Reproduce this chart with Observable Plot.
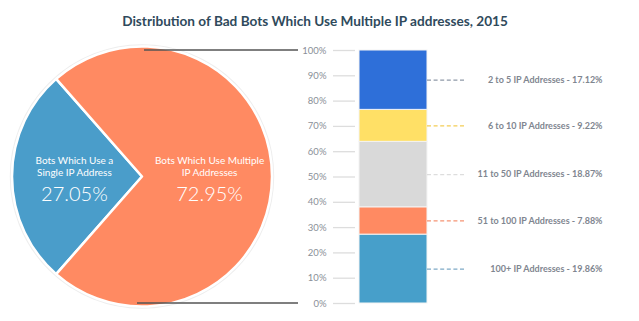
<!DOCTYPE html>
<html><head><meta charset="utf-8">
<script src="https://cdn.jsdelivr.net/npm/d3@7"></script>
<script src="https://cdn.jsdelivr.net/npm/@observablehq/plot@0.6"></script>
<style>
body{margin:0;background:#fff;font-family:Lato,"Open Sans",sans-serif;}
#title{height:20px;padding-top:14px;line-height:14px;font-size:13.6px;font-weight:bold;color:#2f4a5c;text-align:center;width:630px;}
#chart svg{display:block;}
</style></head><body>
<div id="title">Distribution of Bad Bots Which Use Multiple IP addresses, 2015</div>
<div id="chart"></div>
<script>
const pieCategories = ["Single IP Address", "Multiple IP Addresses"];
const pieValues = [27.05, 72.95];
const pieLabelLines = [["Bots Which Use a", "Single IP Address"], ["Bots Which Use Multiple", "IP Addresses"]];
const pieColors = ["#4a9dca", "#ff8a62"];

const barCategories = ["100+ IP Addresses", "51 to 100 IP Addresses", "11 to 50 IP Addresses", "6 to 10 IP Addresses", "2 to 5 IP Addresses"];
const barValues = [19.86, 7.88, 18.87, 9.22, 17.12];
const barColors = ["#479fca", "#ff8a62", "#d9d9d9", "#ffe066", "#2e6fd9"];
const dashColors = ["#7ea9c6", "#f59474", "#dddddd", "#f3cd55", "#8f99a8"];

const yTicks = [0, 0.1, 0.2, 0.3, 0.4, 0.5, 0.6, 0.7, 0.8, 0.9, 1];

const barData = barCategories.map((c, i) => ({category: c, value: barValues[i], color: barColors[i], dash: dashColors[i]}));
const pieData = pieCategories.map((c, i) => ({category: c, value: pieValues[i], color: pieColors[i], lines: pieLabelLines[i]}));

function pieMark(index, scales, values, dims) {
  const cx = 142, cy = scales.y(0.5), r = 130;
  const total = d3.sum(pieData, d => d.value);
  const a = pieData[0].value / total * 2 * Math.PI;
  const start = -Math.PI / 2 - a / 2;
  const arcs = d3.pie().sort(null).value(d => d.value).startAngle(start).endAngle(start + 2 * Math.PI)(pieData);
  const arc = d3.arc().innerRadius(0).outerRadius(r);
  const labelArc = d3.arc().innerRadius(r * 0.52).outerRadius(r * 0.52);
  const g = d3.create("svg:g");
  g.append("circle").attr("cx", cx).attr("cy", cy).attr("r", r + 1.5).attr("fill", "none").attr("stroke", "#eeeeee").attr("stroke-width", 1.5);
  const s = g.selectAll("g.s").data(arcs).join("g").attr("transform", `translate(${cx},${cy})`);
  s.append("path").attr("d", arc).attr("fill", d => d.data.color).attr("stroke", "#fff").attr("stroke-width", 2.5).attr("stroke-linejoin", "round");
  const t = s.append("g").attr("transform", d => { const [x, y] = labelArc.centroid(d); return `translate(${x},${y})`; })
    .attr("fill", "#fff").attr("text-anchor", "middle").attr("font-family", "Lato, 'Open Sans', sans-serif");
  t.append("text").attr("y", -16).attr("dy", "0.35em").attr("font-size", 10).text(d => d.data.lines[0]);
  t.append("text").attr("y", -4).attr("dy", "0.35em").attr("font-size", 10).text(d => d.data.lines[1]);
  t.append("text").attr("y", 17).attr("dy", "0.35em").attr("font-size", 20).attr("font-weight", 300).text(d => d.data.value.toFixed(2) + "%");
  g.selectAll("line.c").data([1, 0]).join("line")
    .attr("x1", d => d ? cx + 2 : cx - 5).attr("x2", 298)
    .attr("y1", d => scales.y(d)).attr("y2", d => scales.y(d))
    .attr("stroke", "#555").attr("stroke-width", 1.5);
  return g.node();
}

const chart = Plot.plot({
  width: 639,
  height: 287,
  marginTop: 16,
  marginBottom: 18,
  marginLeft: 359,
  marginRight: 212,
  style: {fontFamily: "Lato, 'Open Sans', sans-serif", background: "#fff"},
  x: {type: "band", domain: ["bar"], padding: 0, axis: null},
  y: {domain: [0, 1], axis: null, label: null},
  marks: [
    Plot.axisY({ticks: yTicks, tickSize: 22, dx: -4, text: null, stroke: "#dddddd", strokeWidth: 1.3, label: null}),
    Plot.axisY({ticks: yTicks, tickSize: 0, dx: -4, tickPadding: 29, tickFormat: d3.format(".0%"), fill: "#8a8f98", fontSize: 9.5, label: null}),
    Plot.barY(barData, {x: () => "bar", y: "value", fill: "color", offset: "normalize", stroke: "#f4f4f4", strokeWidth: 1}),
    Plot.tickY(barData, Plot.stackY({x: () => "bar", y: "value", offset: "normalize", stroke: "dash", strokeWidth: 1.2, strokeDasharray: "4,2.6", dx: 68, insetRight: 29})),
    Plot.text(barData, Plot.stackY({x: () => "bar", y: "value", offset: "normalize", text: d => `${d.category} - ${d.value.toFixed(2)}%`, dx: 209, textAnchor: "end", fill: "#7f8690", fontSize: 9, fontWeight: "bold"})),
    pieMark
  ]
});
document.getElementById("chart").appendChild(chart);
</script>
</body></html>
